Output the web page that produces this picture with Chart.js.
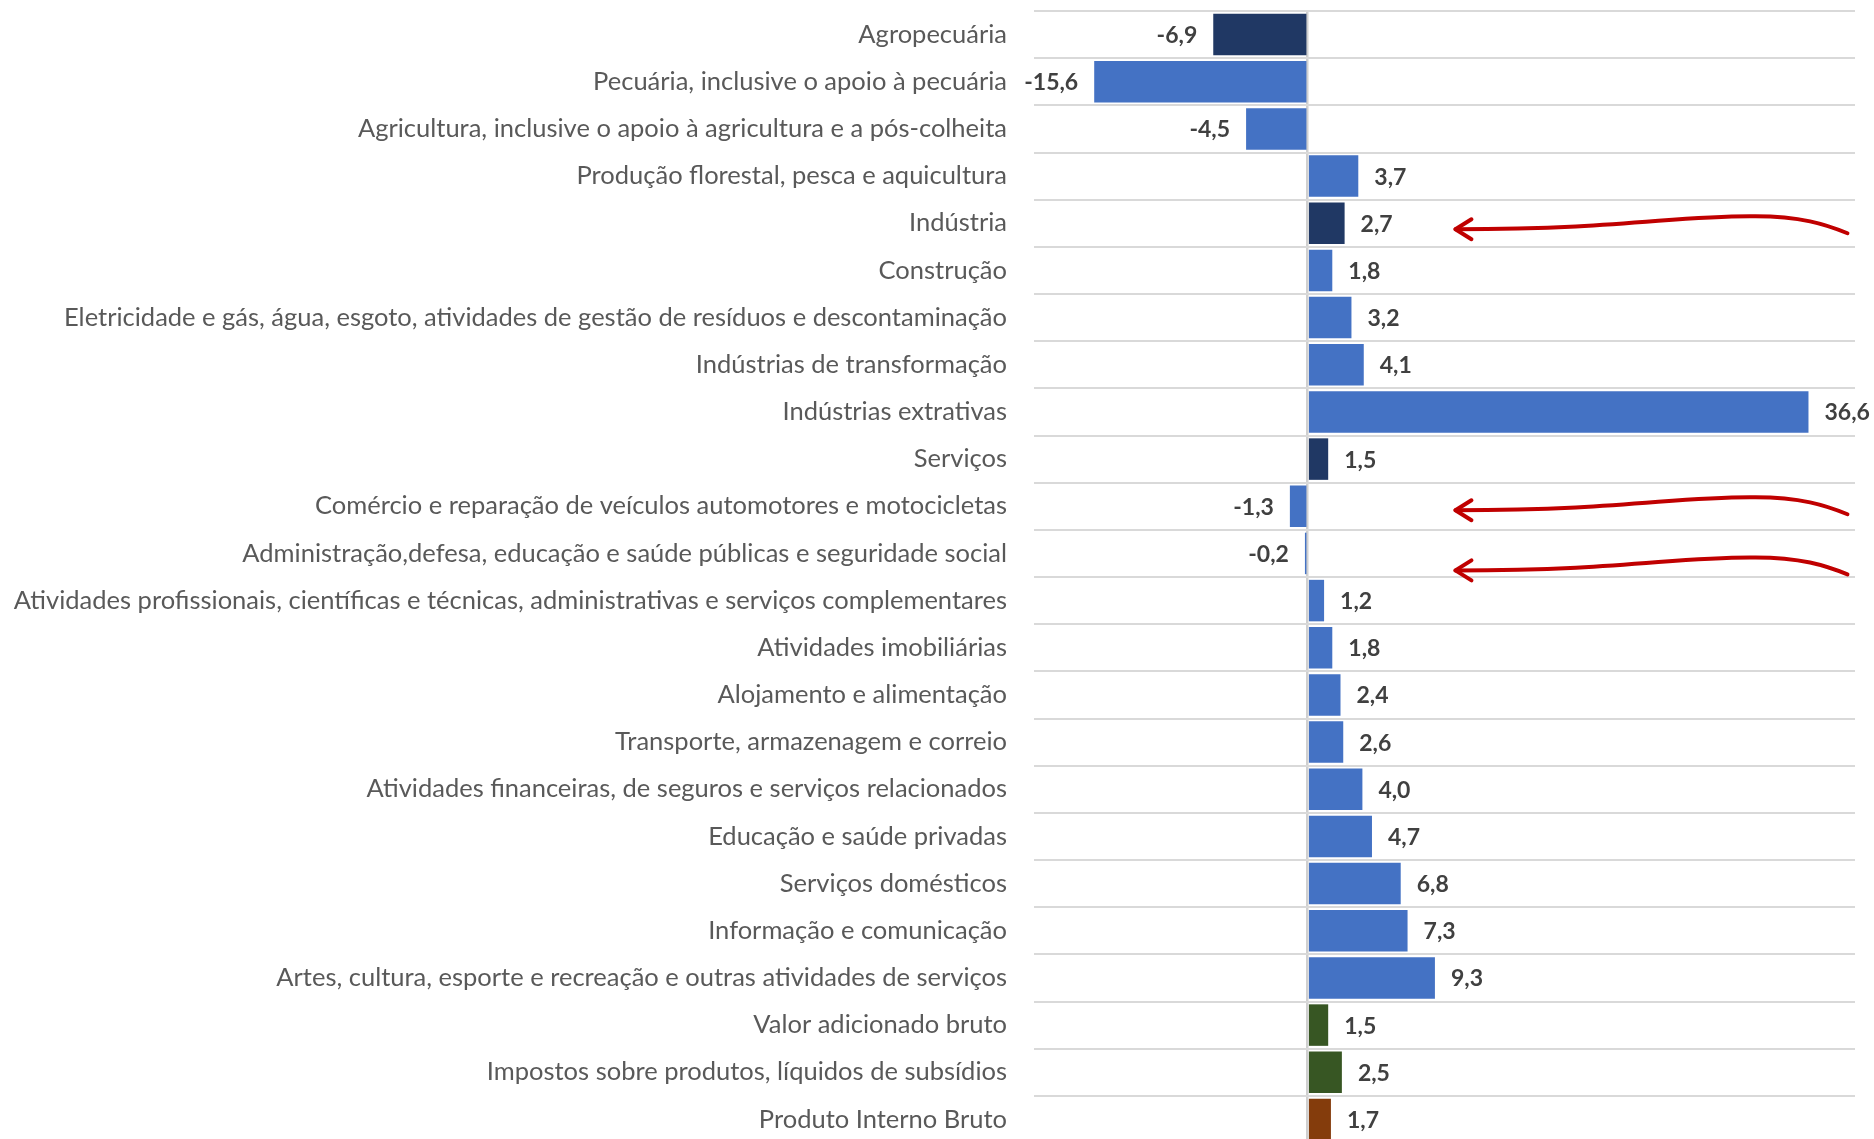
<!DOCTYPE html>
<html>
<head>
<meta charset="utf-8">
<script src="https://cdn.jsdelivr.net/npm/chart.js@4/dist/chart.umd.min.js"></script>
<style>
html,body{margin:0;padding:0;background:#fff;overflow:hidden;}
#clip{width:1874px;height:1139px;overflow:hidden;position:relative;}
#wrap{width:1874px;height:1146px;position:absolute;left:0;top:0;}
</style>
</head>
<body>
<div id="clip"><div id="wrap"><canvas id="c"></canvas></div></div>
<script>
const categories = [
  "Agropecuária",
  "Pecuária, inclusive o apoio à pecuária",
  "Agricultura, inclusive o apoio à agricultura e a pós-colheita",
  "Produção florestal, pesca e aquicultura",
  "Indústria",
  "Construção",
  "Eletricidade e gás, água, esgoto, atividades de gestão de resíduos e descontaminação",
  "Indústrias de transformação",
  "Indústrias extrativas",
  "Serviços",
  "Comércio e reparação de veículos automotores e motocicletas",
  "Administração,defesa, educação e saúde públicas e seguridade social",
  "Atividades profissionais, científicas e técnicas, administrativas e serviços complementares",
  "Atividades imobiliárias",
  "Alojamento e alimentação",
  "Transporte, armazenagem e correio",
  "Atividades financeiras, de seguros e serviços relacionados",
  "Educação e saúde privadas",
  "Serviços domésticos",
  "Informação e comunicação",
  "Artes, cultura, esporte e recreação e outras atividades de serviços",
  "Valor adicionado bruto",
  "Impostos sobre produtos, líquidos de subsídios",
  "Produto Interno Bruto"
];
const values = [-6.9, -15.6, -4.5, 3.7, 2.7, 1.8, 3.2, 4.1, 36.6, 1.5, -1.3, -0.2, 1.2, 1.8, 2.4, 2.6, 4.0, 4.7, 6.8, 7.3, 9.3, 1.5, 2.5, 1.7];
const groups = ["setor","sub","sub","sub","setor","sub","sub","sub","sub","setor","sub","sub","sub","sub","sub","sub","sub","sub","sub","sub","sub","agregado","agregado","pib"];
const highlighted = ["Indústria", "Comércio e reparação de veículos automotores e motocicletas", "Administração,defesa, educação e saúde públicas e seguridade social"];

const groupColors = { setor: "#203864", sub: "#4472C4", agregado: "#375623", pib: "#843C0C" };
const arrowOffsets = [6, 4, 17];

const labelPlugin = {
  id: "valueLabels",
  afterDatasetsDraw(chart) {
    const ctx = chart.ctx;
    const meta = chart.getDatasetMeta(0);
    ctx.save();
    ctx.font = "bold 23px Lato";
    ctx.fillStyle = "#404040";
    ctx.textBaseline = "middle";
    meta.data.forEach((el, i) => {
      const v = values[i];
      const txt = v.toFixed(1).replace(".", ",");
      if (v >= 0) { ctx.textAlign = "left"; ctx.fillText(txt, el.x + 16, el.y + 1); }
      else { ctx.textAlign = "right"; ctx.fillText(txt, el.x - 16, el.y + 1); }
    });
    ctx.restore();
  }
};

const arrowPlugin = {
  id: "arrows",
  afterDraw(chart) {
    const ctx = chart.ctx;
    const xs = chart.scales.x, ys = chart.scales.y;
    ctx.save();
    ctx.strokeStyle = "#C00000";
    ctx.lineWidth = 4;
    ctx.lineCap = "round";
    ctx.lineJoin = "round";
    highlighted.forEach((name, k) => {
      const idx = categories.indexOf(name);
      const tx = xs.getPixelForValue(10.8);
      const ty = ys.getPixelForValue(idx) + arrowOffsets[k];
      ctx.beginPath();
      ctx.moveTo(tx, ty);
      ctx.bezierCurveTo(tx + 170, ty, tx + 220, ty - 14, tx + 300, ty - 13);
      ctx.bezierCurveTo(tx + 345, ty - 13, tx + 370, ty - 5, tx + 392, ty + 4);
      ctx.stroke();
      ctx.beginPath();
      ctx.moveTo(tx + 16, ty - 10);
      ctx.lineTo(tx, ty);
      ctx.lineTo(tx + 16, ty + 10);
      ctx.stroke();
    });
    ctx.restore();
  }
};

new Chart(document.getElementById("c"), {
  type: "bar",
  data: {
    labels: categories,
    datasets: [{
      data: values,
      backgroundColor: groups.map(g => groupColors[g]),
      borderWidth: 0,
      categoryPercentage: 1,
      barPercentage: 0.88
    }]
  },
  options: {
    indexAxis: "y",
    responsive: true,
    maintainAspectRatio: false,
    animation: false,
    layout: { padding: { top: 11, right: 19, bottom: 3, left: 0 } },
    plugins: { legend: { display: false }, tooltip: { enabled: false } },
    scales: {
      x: {
        min: -20, max: 40,
        ticks: { display: false, stepSize: 10 },
        afterFit: s => { s.height = 0; s.paddingLeft = 0; s.paddingRight = 0; },
        grid: { drawTicks: false, lineWidth: 2.5, color: c => (c.tick && c.tick.value === 0) ? "#d0d0d0" : "rgba(0,0,0,0)" },
        border: { display: false }
      },
      y: {
        afterFit: s => { s.width = 1034; s.paddingTop = 0; s.paddingBottom = 0; },
        ticks: { font: { family: "Lato", size: 25.5 }, color: "#595959", padding: 27, autoSkip: false },
        grid: { offset: true, drawTicks: false, color: "#d9d9d9", lineWidth: 2 },
        border: { display: false }
      }
    }
  },
  plugins: [labelPlugin, arrowPlugin]
});
</script>
</body>
</html>
